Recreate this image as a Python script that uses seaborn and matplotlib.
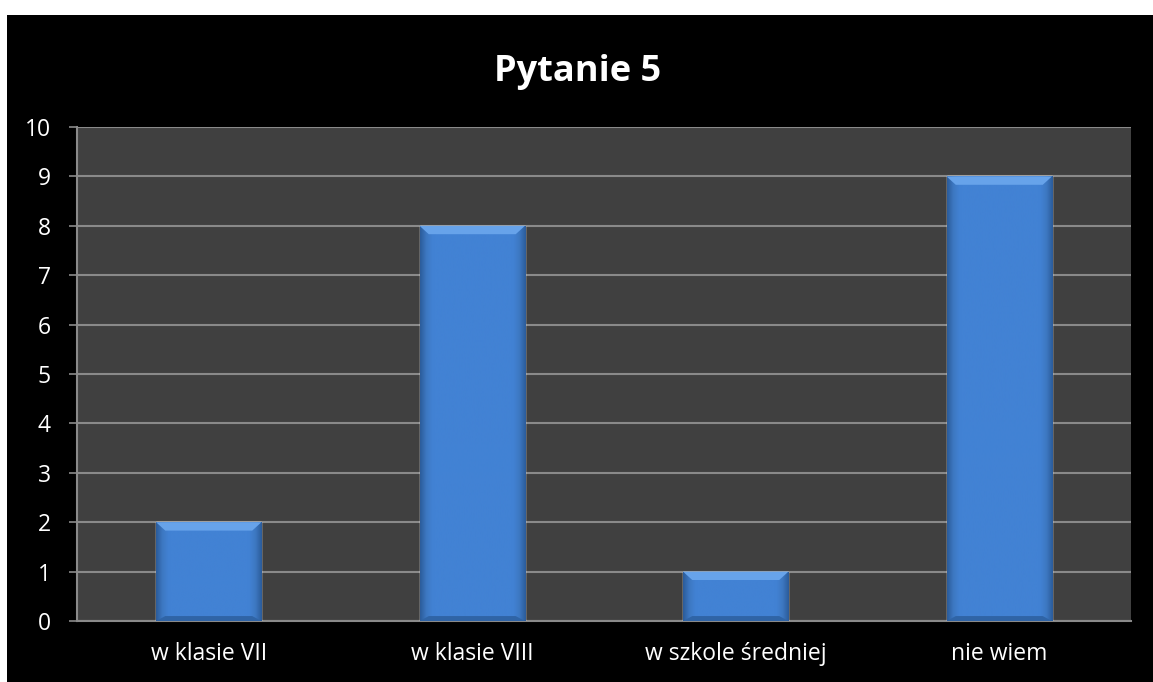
import numpy as np
import pandas as pd
import matplotlib
matplotlib.use("Agg")
import matplotlib.pyplot as plt
import seaborn as sns
from matplotlib.patches import Rectangle, Polygon
from matplotlib.colors import LinearSegmentedColormap

# data
categories = ["w klasie VII", "w klasie VIII", "w szkole średniej", "nie wiem"]
values = [2, 8, 1, 9]
title = "Pytanie 5"

df = pd.DataFrame({"kategoria": categories, "liczba": values})

sns.set_style("dark")
plt.rcParams["font.family"] = ["Open Sans", "DejaVu Sans"]

fig = plt.figure(figsize=(11.53, 6.82), dpi=100)
fig.patch.set_facecolor("white")
# black chart frame with a thin white margin top/left
fig.patches.append(Rectangle((7 / 1153, 0), 1 - 7 / 1153, 1 - 15 / 682,
                             transform=fig.transFigure, facecolor="black",
                             edgecolor="none", zorder=-10))

ax = fig.add_axes([77 / 1153, 1 - 621 / 682, (1131 - 77) / 1153, (621 - 127) / 682])
ax.set_facecolor("#404040")

sns.barplot(data=df, x="kategoria", y="liczba", color="#4282d4",
            width=0.4, saturation=1, ax=ax, zorder=3)

# bevel look: dark thin side edges + light top edge
shade = LinearSegmentedColormap.from_list(
    "shade", [(0.0, "#2b5c9a"), (0.06, "#3d78c2"), (0.12, "#4282d4"),
              (0.88, "#4282d4"), (0.94, "#3d78c2"), (1.0, "#2b5c9a")])
grad = np.linspace(0, 1, 256).reshape(1, -1)
for p in list(ax.patches):
    x0, y0 = p.get_x(), p.get_y()
    w, h = p.get_width(), p.get_height()
    im = ax.imshow(grad, cmap=shade, aspect="auto", extent=[x0, x0 + w, y0, y0 + h],
                   zorder=3.5, interpolation="bicubic")
    im.set_clip_path(p)
    bev = 0.17
    top = Polygon([[x0, y0 + h], [x0 + w, y0 + h], [x0 + w - 0.035, y0 + h - bev],
                   [x0 + 0.035, y0 + h - bev]], closed=True,
                  facecolor="#67a3ea", edgecolor="none", zorder=4)
    ax.add_patch(top)
    bot = Polygon([[x0, y0], [x0 + w, y0], [x0 + w - 0.035, y0 + 0.1],
                   [x0 + 0.035, y0 + 0.1]], closed=True,
                  facecolor="#2f64a6", edgecolor="none", zorder=4)
    ax.add_patch(bot)

ax.set_xlim(-0.5, len(categories) - 0.5)
ax.set_ylim(0, 10)
ax.set_yticks(range(0, 11))
ax.yaxis.grid(True, color="#8a8a8a", linewidth=1.5, zorder=1)
ax.xaxis.grid(False)
ax.set_axisbelow(True)

ax.set_xticks(np.arange(-0.5, len(categories), 1.0), minor=True)
ax.tick_params(axis="x", which="major", length=0, pad=15, colors="white", labelsize=16.5)
ax.tick_params(axis="x", which="minor", length=6, width=1.2, color="#8a8a8a", direction="out")
ax.tick_params(axis="y", length=6, width=1.2, color="#8a8a8a", pad=13, labelcolor="white",
               labelsize=16.5, left=True)

ax.set_xlabel("")
ax.set_ylabel("")
for side in ["top", "right"]:
    ax.spines[side].set_visible(False)
for side in ["left", "bottom"]:
    ax.spines[side].set_visible(True)
    ax.spines[side].set_color("#8a8a8a")
    ax.spines[side].set_linewidth(1.5)

fig.text(578 / 1153, 1 - 72 / 682, title, ha="center", va="center",
         color="white", fontsize=26, fontweight="bold")

fig.savefig("out.png", dpi=100, facecolor=fig.get_facecolor())
